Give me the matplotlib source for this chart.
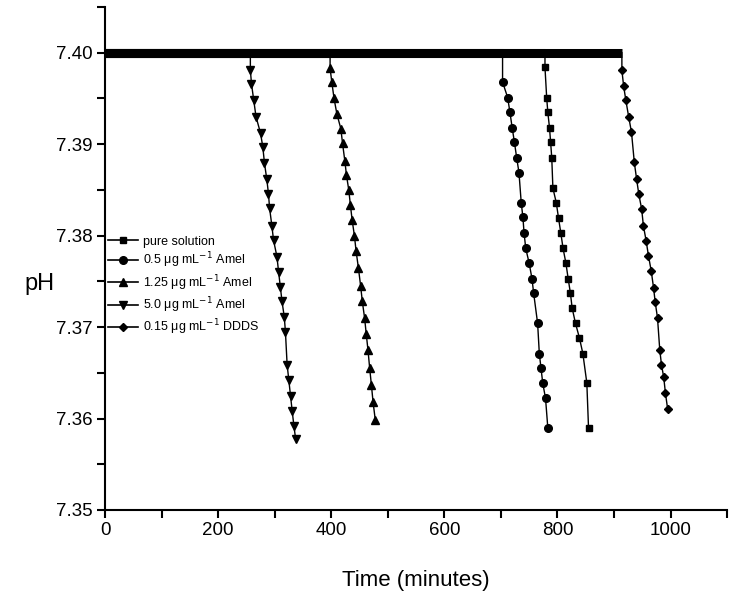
import matplotlib
matplotlib.use("Agg")
import matplotlib.pyplot as plt
from matplotlib.ticker import MultipleLocator, FormatStrFormatter

plt.rcParams['font.family'] = ['Liberation Sans', 'DejaVu Sans']

# pH is 7.40 from t = 0 up to the first point of each list
base_ph = 7.40

# pure solution (squares)
pure_t = [778, 781, 783, 786, 788, 790, 792, 798, 802, 806, 810, 815, 819, 823, 826, 832, 839, 845, 852, 855]
pure_ph = [7.3984, 7.3951, 7.3935, 7.3918, 7.3902, 7.3885, 7.3852, 7.3836, 7.3819, 7.3803,
           7.3786, 7.3770, 7.3753, 7.3737, 7.3721, 7.3704, 7.3688, 7.3671, 7.3639, 7.3590]

# 0.5 ug/mL Amel (circles)
amel05_t = [703, 712, 716, 720, 724, 728, 732, 736, 739, 741, 744, 750, 755, 758, 765, 768, 771, 774, 779, 783]
amel05_ph = [7.3968, 7.3951, 7.3935, 7.3918, 7.3902, 7.3885, 7.3869, 7.3836, 7.3820, 7.3803,
             7.3786, 7.3770, 7.3753, 7.3737, 7.3704, 7.3671, 7.3655, 7.3639, 7.3622, 7.3590]

# 1.25 ug/mL Amel (up triangles)
amel125_t = [398, 401, 405, 410, 417, 420, 424, 427, 431, 434, 437, 441, 444, 448, 452, 455,
             459, 462, 465, 468, 471, 474, 478]
amel125_ph = [7.3983, 7.3968, 7.3950, 7.3933, 7.3917, 7.3901, 7.3882, 7.3866, 7.3850, 7.3833,
              7.3817, 7.3800, 7.3783, 7.3765, 7.3745, 7.3728, 7.3710, 7.3692, 7.3675, 7.3655,
              7.3637, 7.3618, 7.3598]

# 5.0 ug/mL Amel (down triangles)
amel50_t = [257, 259, 263, 267, 275, 279, 282, 286, 289, 291, 295, 298, 304, 307, 310, 313,
            317, 319, 322, 325, 328, 331, 334, 337]
amel50_ph = [7.3981, 7.3966, 7.3948, 7.3930, 7.3912, 7.3897, 7.3879, 7.3862, 7.3846, 7.3830,
             7.3811, 7.3795, 7.3777, 7.3760, 7.3744, 7.3728, 7.3711, 7.3695, 7.3659, 7.3642,
             7.3625, 7.3608, 7.3592, 7.3578]

# 0.15 ug/mL DDDS (diamonds)
ddds_t = [914, 917, 921, 926, 931, 936, 940, 944, 949, 952, 957, 961, 966, 970, 973, 977,
          981, 984, 988, 991, 995]
ddds_ph = [7.3981, 7.3964, 7.3948, 7.3930, 7.3913, 7.3880, 7.3862, 7.3845, 7.3829, 7.3811,
           7.3794, 7.3778, 7.3761, 7.3743, 7.3727, 7.3710, 7.3675, 7.3659, 7.3645, 7.3628,
           7.3610]

series = [
    ("pure solution", "s", 5, pure_t, pure_ph),
    ("0.5 μg mL$^{-1}$ Amel", "o", 5.5, amel05_t, amel05_ph),
    ("1.25 μg mL$^{-1}$ Amel", "^", 6, amel125_t, amel125_ph),
    ("5.0 μg mL$^{-1}$ Amel", "v", 6, amel50_t, amel50_ph),
    ("0.15 μg mL$^{-1}$ DDDS", "D", 4.5, ddds_t, ddds_ph),
]

fig = plt.figure(figsize=(7.35, 5.99), dpi=100)
ax = fig.add_axes([0.1429, 0.1486, 0.8463, 0.8397])

for label, marker, ms, t, ph in series:
    # flat stretch at the start: densely sampled points merge into a thick band
    ax.plot([0, t[0]], [base_ph, base_ph], color='black', lw=6.5, solid_capstyle='butt')
    ax.plot([t[0]] + t, [base_ph] + ph, color='black', lw=1.0)
    ax.plot(t, ph, linestyle='none', marker=marker, color='black', ms=ms)
    ax.plot([], [], color='black', lw=1.2, marker=marker, ms=ms, label=label)

ax.set_xlim(0, 1100)
ax.set_ylim(7.35, 7.405)
ax.xaxis.set_major_locator(MultipleLocator(200))
ax.xaxis.set_minor_locator(MultipleLocator(100))
ax.yaxis.set_major_locator(MultipleLocator(0.01))
ax.yaxis.set_minor_locator(MultipleLocator(0.005))
ax.yaxis.set_major_formatter(FormatStrFormatter('%.2f'))

for side in ('top', 'right'):
    ax.spines[side].set_visible(False)
for side in ('left', 'bottom'):
    ax.spines[side].set_linewidth(1.5)
ax.tick_params(which='major', direction='out', length=6, width=1.5, labelsize=13.5, pad=3)
ax.tick_params(which='minor', direction='out', length=6, width=1.5)

ax.set_xlabel("Time (minutes)", fontsize=16, labelpad=22)
ax.set_ylabel("pH", fontsize=17, rotation=0, va='center', ha='center')
ax.yaxis.set_label_coords(-0.105, 0.45)

ax.legend(loc='upper left', bbox_to_anchor=(0.005, 0.545), frameon=False, fontsize=9,
          handlelength=2.4, handletextpad=0.35, labelspacing=0.22, borderaxespad=0.0,
          borderpad=0.0)

fig.savefig("out.png", dpi=100)
